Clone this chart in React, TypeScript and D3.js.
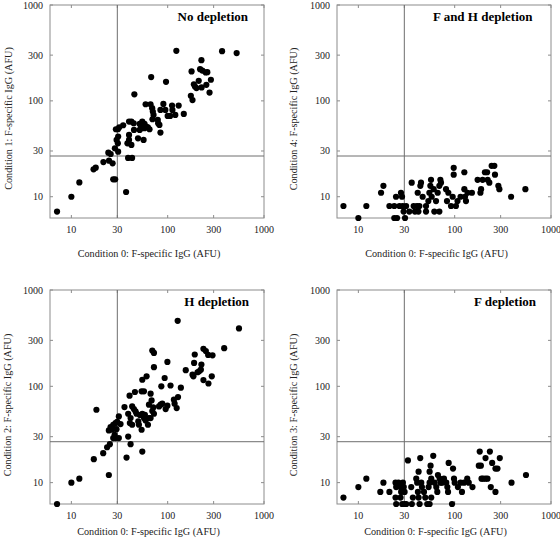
import React from "react";
import * as d3 from "d3";

// ---------- data ----------
const TICK_VALUES = [10, 30, 100, 300, 1000];
const TICK_LABELS = ["10", "30", "100", "300", "1000"];
const AXIS_DOMAIN: [number, number] = [6, 1000];
const X_THRESHOLD = 30;
const Y_THRESHOLD = 26.6;

const X_LABEL = "Condition 0: F-specific IgG (AFU)";
const PANEL_TITLES = ["No depletion", "F and H depletion", "H depletion", "F depletion"];
const PANEL_Y_LABELS = [
  "Condition 1: F-specific IgG (AFU)",
  "Condition 4: F-specific IgG (AFU)",
  "Condition 2: F-specific IgG (AFU)",
  "Condition 3: F-specific IgG (AFU)",
];

// No depletion: [condition 0, condition 1]
const noDepletion: [number, number][] = [
  [7.1, 7.0], [10, 10], [12.1, 14.1], [17, 19.3], [17.9, 20.1], [21.5, 23], [24.2, 28.8],
  [25.6, 27.9], [24.6, 23.8], [26.8, 22.3], [27.2, 15.2], [28.5, 15.2], [28.3, 32], [30.6, 29.5],
  [29.5, 39.1], [30.4, 36.1], [30.6, 42.4], [29, 50.6], [30.4, 50.6], [31.4, 53], [34.5, 55.7],
  [37, 11.2], [38.8, 25.4], [42.7, 25.4], [39.7, 60.8], [42, 60.8], [44.4, 58.4], [39.7, 44.1],
  [39.7, 39.1], [38.2, 36.1], [42, 34.7], [44.7, 49.8], [45.1, 117], [49.2, 40.7], [56.2, 39.1],
  [51.2, 57.5], [54.5, 60.8], [55.3, 56.1], [57.5, 57.5], [59.9, 53.9], [53.2, 51.8], [51.2, 49.8],
  [57.5, 51.8], [62.3, 53], [64.8, 50.6], [59, 92.2], [66.4, 92.2], [69, 83.8], [69.5, 64.3],
  [70.1, 77.4], [71.3, 71.4], [67.4, 177], [78.9, 63.3], [79.6, 58.4], [82.1, 56.1], [84.1, 46.7],
  [84.1, 80.5], [90.2, 93], [94.6, 80.5], [96.1, 158], [100, 69.7], [106, 69.7], [111, 89.3],
  [112, 80.5], [120, 71.4], [130, 89.3], [123, 333], [147, 73], [174, 113], [181, 102],
  [177, 203], [187, 149], [192, 141], [199, 136], [210, 162], [217, 214], [224, 266], [229, 207],
  [248, 198], [258, 199], [225, 138], [252, 147], [272, 122], [281, 166], [367, 330], [520, 315],
];

// F and H depletion: [condition 0, condition 4]
const fhDepletion: [number, number][] = [
  [7.0, 8], [12.1, 8], [10, 6], [17.2, 11], [18.2, 13], [21, 8], [23.6, 8], [24.6, 10], [25.2, 6],
  [23.6, 6], [26.7, 8], [27.7, 11], [28.4, 10], [28.9, 8], [29.5, 7], [30.5, 6], [31.3, 8],
  [33.8, 7], [35.8, 14], [37.5, 8], [38.7, 7], [40.6, 8], [42, 7], [43, 8], [41.3, 11], [44, 13],
  [44.7, 14], [46.5, 10], [50.4, 8], [50.4, 7], [53.3, 9], [54.6, 11], [55.9, 13], [56.8, 15],
  [57.7, 10], [60.5, 12], [61.5, 7], [64, 9], [66.6, 11], [69.3, 7], [69.3, 13], [71, 15],
  [72.1, 14], [81.3, 12], [83.2, 9], [85.9, 11], [91.6, 8], [95.3, 10], [97.7, 20], [97.7, 17],
  [103, 8], [107, 9], [115, 10], [126, 18], [126, 12], [128, 10], [131, 9], [136, 11], [151, 11],
  [173, 15], [185, 11], [188, 12], [195, 15], [206, 18], [217, 18], [220, 15], [229, 14],
  [242, 21], [258, 21], [262, 17], [284, 13], [291, 12], [385, 10], [542, 12],
];

// H depletion: [condition 0, condition 2]
const hDepletion: [number, number][] = [
  [127, 479], [550, 399], [69.2, 235], [72, 222], [99.3, 179], [72, 158], [191, 214], [235, 245],
  [249, 232], [263, 212], [292, 210], [386, 249], [188, 175], [224, 168], [154, 147], [181, 132],
  [185, 127], [204, 140], [212, 143], [221, 149], [235, 116], [265, 107], [287, 127], [60.4, 127],
  [54.5, 117], [93, 122], [85.9, 100], [107, 102], [137, 96.8], [45.7, 87.3], [53.6, 88.7],
  [56.7, 88.7], [40.2, 80], [66.5, 83.9], [68.1, 71.4], [128, 77.4], [116, 72.6], [118, 66],
  [124, 59.4], [84.5, 64.4], [87.9, 66], [81.3, 61.9], [99.3, 62.9], [95.3, 58], [63.9, 64.4],
  [70.9, 60.4], [69.2, 55.3], [72, 51.9], [35.6, 60.9], [42.8, 61.9], [44.6, 58], [46.4, 54.9],
  [47.5, 51.9], [51.5, 50.3], [54.5, 51.9], [58, 50.7], [56.7, 46.8], [59, 44.2], [63.9, 46.8],
  [66.5, 46.8], [38.9, 51.9], [41.2, 46.8], [40.5, 41.5], [42.8, 39.9], [49.5, 43.2], [50.3, 39.9],
  [53.6, 35.4], [62.4, 39.9], [18.2, 57.1], [31.1, 48.7], [29.9, 42.8], [28.7, 41.5], [32.4, 40.5],
  [27.2, 39.9], [25.5, 37.7], [24.5, 34.8], [26.5, 35.4], [29.4, 35.9], [28.1, 31.4], [31.1, 29],
  [27.2, 29], [28.7, 29], [38.9, 30.1], [25.1, 25.1], [23.5, 23.3], [41.2, 25.1], [21.4, 20.2],
  [37.4, 18.2], [54.5, 21], [17.1, 17.5], [7.1, 6], [10, 10], [12.1, 11], [24.5, 12],
];

// F depletion: [condition 0, condition 3]
const fDepletion: [number, number][] = [
  [7, 7], [10, 9], [12.1, 11], [16.9, 8], [18.2, 10], [21, 8], [24.3, 10], [24.7, 9], [24.3, 7],
  [24.7, 6], [26.1, 10], [27.4, 9], [27.8, 8], [27.4, 7], [28.5, 6], [30.2, 6], [29, 10],
  [29.6, 9], [30.2, 8], [31.4, 6], [32.7, 17], [35.4, 9], [36.8, 7], [35.9, 6], [39.9, 11],
  [40.8, 10], [42.2, 13], [41.5, 8], [42.2, 7], [43.2, 6], [43.9, 18], [45, 10], [45.7, 9],
  [48, 8], [49.5, 7], [51.9, 6], [54.9, 6], [57.1, 7], [53.6, 9], [54.9, 13], [56.2, 15],
  [54.9, 10], [57.1, 11], [59.9, 19], [61.9, 10], [64.4, 9], [66, 8], [67, 12], [69.8, 11],
  [71.4, 10], [73.8, 10], [77.4, 11], [81.8, 10], [83.9, 9], [85.3, 8], [86.6, 16], [93.8, 6],
  [96.1, 14], [98.4, 11], [100, 10], [108, 9], [115, 10], [119, 8], [125, 10], [135, 11],
  [140, 10], [153, 9], [182, 21], [187, 15], [178, 15], [190, 11], [197, 11], [209, 11],
  [219, 11], [232, 21], [209, 18], [237, 9], [245, 16], [265, 14], [278, 14], [294, 18],
  [265, 8], [389, 10], [550, 12],
];

const PANEL_DATA = [noDepletion, fhDepletion, hDepletion, fDepletion];

// ---------- layout ----------
const W = 560;
const H = 546;
const PANELS = [
  { left: 50, top: 5, width: 214, height: 213, titleInset: 16, yLabelX: 11.5, yLabelY: 118.5, xLabelX: 149, xLabelY: 256.5 },
  { left: 337, top: 5, width: 214, height: 213, titleInset: 18.5, yLabelX: 297, yLabelY: 119, xLabelX: 436.5, xLabelY: 256.5 },
  { left: 50, top: 290, width: 214, height: 214, titleInset: 15, yLabelX: 11, yLabelY: 405, xLabelX: 148.5, xLabelY: 535 },
  { left: 337, top: 290, width: 214, height: 214, titleInset: 15, yLabelX: 297, yLabelY: 405, xLabelX: 435.5, xLabelY: 535 },
];

const FONT = "'Liberation Serif', 'Times New Roman', serif";
const FRAME = "#8c8c8c";
const REF_LINE = "#6e6e6e";

function Panel({ idx }: { idx: number }) {
  const p = PANELS[idx];
  const pts = PANEL_DATA[idx];
  const x = d3.scaleLog().domain(AXIS_DOMAIN).range([p.left, p.left + p.width]);
  const y = d3.scaleLog().domain(AXIS_DOMAIN).range([p.top + p.height, p.top]);
  const bottom = p.top + p.height;
  const right = p.left + p.width;
  const tk = 3;
  return (
    <g>
      <rect x={p.left} y={p.top} width={p.width} height={p.height} fill="none" stroke={FRAME} strokeWidth={1} />
      {TICK_VALUES.map((v) => (
        <g key={"t" + v}>
          <line x1={x(v)} x2={x(v)} y1={bottom} y2={bottom - tk} stroke={FRAME} />
          <line x1={x(v)} x2={x(v)} y1={p.top} y2={p.top + tk} stroke={FRAME} />
          <line x1={p.left} x2={p.left + tk} y1={y(v)} y2={y(v)} stroke={FRAME} />
          <line x1={right} x2={right - tk} y1={y(v)} y2={y(v)} stroke={FRAME} />
        </g>
      ))}
      {TICK_VALUES.map((v, i) => (
        <text key={"xl" + v} x={x(v)} y={bottom + 14.5} textAnchor="middle" fontSize={10} fontFamily={FONT} fill="#222">
          {TICK_LABELS[i]}
        </text>
      ))}
      {TICK_VALUES.map((v, i) => (
        <text key={"yl" + v} x={p.left - 7} y={y(v) + 3.5} textAnchor="end" fontSize={10} fontFamily={FONT} fill="#222">
          {TICK_LABELS[i]}
        </text>
      ))}
      <line x1={x(X_THRESHOLD)} x2={x(X_THRESHOLD)} y1={p.top} y2={bottom} stroke={REF_LINE} strokeWidth={1} />
      <line x1={p.left} x2={right} y1={y(Y_THRESHOLD)} y2={y(Y_THRESHOLD)} stroke={REF_LINE} strokeWidth={1} />
      {pts.map((d, i) => (
        <circle key={i} cx={x(d[0])} cy={y(d[1])} r={3.1} fill="#000" />
      ))}
      <text x={right - p.titleInset} y={p.top + 16} textAnchor="end" fontSize={13} fontWeight="bold" fontFamily={FONT} fill="#000">
        {PANEL_TITLES[idx]}
      </text>
      <text x={p.xLabelX} y={p.xLabelY} textAnchor="middle" fontSize={10.2} fontFamily={FONT} fill="#222">
        {X_LABEL}
      </text>
      <text
        transform={`translate(${p.yLabelX},${p.yLabelY}) rotate(-90)`}
        textAnchor="middle"
        fontSize={10.2}
        fontFamily={FONT}
        fill="#222"
      >
        {PANEL_Y_LABELS[idx]}
      </text>
    </g>
  );
}

export default function App() {
  return (
    <svg
      width={W}
      height={H}
      viewBox={`0 0 ${W} ${H}`}
      style={{ position: "absolute", left: 0, top: 0, background: "#fff" }}
    >
      <rect x={0} y={0} width={W} height={H} fill="#fff" />
      {PANELS.map((_, i) => (
        <Panel key={i} idx={i} />
      ))}
    </svg>
  );
}
